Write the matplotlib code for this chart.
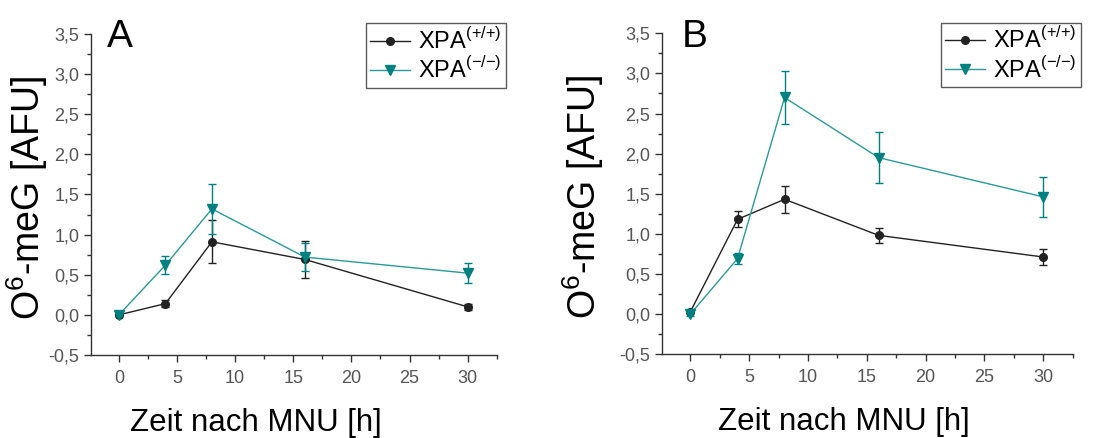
import matplotlib.pyplot as plt
from matplotlib.lines import Line2D
from matplotlib.ticker import MultipleLocator, FuncFormatter

plt.rcParams['font.family'] = ['Liberation Sans', 'DejaVu Sans']
plt.rcParams['mathtext.fontset'] = 'custom'
plt.rcParams['mathtext.rm'] = 'Liberation Sans'

zeit = [0, 4, 8, 16, 30]

# Panel A
a_wt = [0.0, 0.14, 0.91, 0.69, 0.10]
a_wt_err = [0.02, 0.04, 0.27, 0.23, 0.04]
a_ko = [0.0, 0.62, 1.32, 0.72, 0.52]
a_ko_err = [0.02, 0.11, 0.31, 0.17, 0.12]

# Panel B
b_wt = [0.03, 1.18, 1.43, 0.98, 0.71]
b_wt_err = [0.02, 0.10, 0.17, 0.09, 0.10]
b_ko = [0.0, 0.69, 2.70, 1.95, 1.46]
b_ko_err = [0.02, 0.07, 0.33, 0.32, 0.25]

teal = '#008080'
teal_line = '#2a9a9a'
dark = '#222222'

fig = plt.figure(figsize=(11.14, 4.38), dpi=100)
ax_a = fig.add_axes([0.0817, 0.1895, 0.3642, 0.733])
ax_b = fig.add_axes([0.5945, 0.1918, 0.3684, 0.732])

komma = FuncFormatter(lambda v, p: f'{v:.1f}'.replace('.', ','))


def panel(ax, wt, wt_err, ko, ko_err, buchstabe, letter_x, xlab_x, ylab_x, leg_anchor):
    ax.errorbar(zeit, wt, yerr=wt_err, color=dark, lw=1, marker='o', ms=5.5,
                capsize=3, elinewidth=1, capthick=1, zorder=3)
    ax.errorbar(zeit, ko, yerr=ko_err, color=teal_line, lw=1, marker='v', ms=7.5,
                mfc=teal, mec=teal, ecolor=teal, capsize=3, elinewidth=1, capthick=1,
                zorder=4)
    ax.set_xlim(-2.4, 32.5)
    ax.set_ylim(-0.5, 3.5)
    ax.spines['top'].set_visible(False)
    ax.spines['right'].set_visible(False)
    for s in ('left', 'bottom'):
        ax.spines[s].set_color('#333333')
        ax.spines[s].set_linewidth(1)
    ax.xaxis.set_major_locator(MultipleLocator(5))
    ax.xaxis.set_minor_locator(MultipleLocator(2.5))
    ax.yaxis.set_major_locator(MultipleLocator(0.5))
    ax.yaxis.set_minor_locator(MultipleLocator(0.25))
    ax.yaxis.set_major_formatter(komma)
    ax.tick_params(which='major', length=5, width=1, color='#333333',
                   labelsize=13, labelcolor='#555555')
    ax.tick_params(which='minor', length=3, width=1, color='#333333')
    ax.tick_params(axis='x', pad=6)
    ax.set_xlabel('Zeit nach MNU [h]', fontsize=22.5, labelpad=15, x=xlab_x)
    ax.set_ylabel('O$^6$-meG [AFU]', fontsize=27)
    ax.yaxis.set_label_coords(ylab_x, 0.49)
    ax.text(letter_x, 1.045, buchstabe, transform=ax.transAxes, fontsize=28,
            va='top', ha='left')
    handles = [
        Line2D([], [], color=dark, lw=1, marker='o', ms=5.5),
        Line2D([], [], color=teal_line, lw=1, marker='v', ms=7.5, mfc=teal, mec=teal),
    ]
    labels = ['XPA$^{({+}/{+})}$', 'XPA$^{({-}/{-})}$']
    leg = ax.legend(handles, labels, loc='upper right', bbox_to_anchor=leg_anchor,
                    bbox_transform=fig.transFigure, fontsize=17, frameon=True,
                    fancybox=False, edgecolor='#333333', handlelength=1.7,
                    handletextpad=0.3, borderpad=0.2, labelspacing=0.15,
                    borderaxespad=0)
    leg.get_frame().set_linewidth(1)


panel(ax_a, a_wt, a_wt_err, a_ko, a_ko_err, 'A', 0.04, 0.407, -0.101,
      (505.7 / 1114, 1 - 23.3 / 438))
panel(ax_b, b_wt, b_wt_err, b_ko, b_ko_err, 'B', 0.047, 0.443, -0.137,
      (1080.7 / 1114, 1 - 22.7 / 438))

fig.savefig('out.png', dpi=100)
